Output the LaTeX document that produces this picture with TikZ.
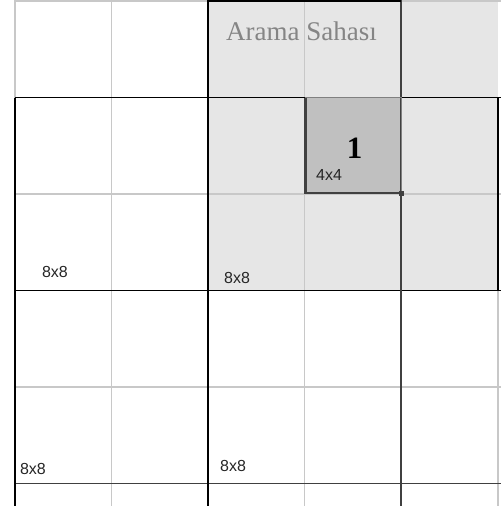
\documentclass[tikz,border=0pt]{standalone}
\usepackage{fontspec}
\setmainfont{Liberation Serif}
\newfontfamily\gridsans{Liberation Sans}
\usepackage{tikz}
\definecolor{searchfill}{HTML}{E6E6E6}
\definecolor{blockfill}{HTML}{C0C0C0}
\definecolor{thinline}{HTML}{C8C8C8}
\definecolor{titlegray}{HTML}{858585}
\definecolor{darkline}{HTML}{404040}
\tikzset{
  fine/.style={thinline,line width=1.2pt},
  block/.style={black,line width=1.6pt},
  size/.style={font=\gridsans\fontsize{16}{16}\selectfont,inner sep=0pt,anchor=base,text=black!85},
}

\begin{document}
\begin{tikzpicture}[x=1pt,y=-1pt]
\useasboundingbox (0,0) rectangle (501,506);
\fill[white] (0,0) rectangle (501,506);
\fill[searchfill] (208,0) rectangle (498,290.5);
\fill[blockfill] (304.5,97.5) rectangle (401,194);
% 4x4 grid
\foreach \x in {111.5,304.5} \draw[fine] (\x,0) -- (\x,506);
\foreach \y in {1,194,387} \draw[fine] (15,\y) -- (501,\y);
\draw[fine] (15,0) -- (15,97.5);
\draw[fine] (498,290.5) -- (498,506);
% 8x8 grid
\foreach \y in {97.5,290.5} \draw[block] (15,\y) -- (501,\y);
\draw[block,darkline] (15,483.5) -- (501,483.5);
\draw[block] (15,97.5) -- (15,506);
\draw[block] (208,0) -- (208,506);
\draw[block,darkline] (401,0) -- (401,506);
\draw[block] (208,0.8) -- (401,0.8);
\draw[block] (498,97.5) -- (498,290.5);
% block 1
\draw[gray,line width=1pt] (304.5,97.5) -- (401,97.5) -- (401,194);
\draw[darkline,line width=2.6pt] (305.5,97.5) -- (305.5,193) -- (401,193);
\fill[darkline] (398.5,191) rectangle (403.5,196);
% labels
\node[anchor=base,text=titlegray,font=\fontsize{27}{27}\selectfont,inner sep=0pt] (title) at (301.5,40.7) {Arama Sahası};
\node[anchor=base,font=\bfseries\fontsize{31}{31}\selectfont,inner sep=0pt] (one) at (354.5,158.7) {1};
\node[size] (s44) at (329,180) {4x4};
\node[size] (s88a) at (55,277) {8x8};
\node[size] (s88b) at (237,283) {8x8};
\node[size] (s88c) at (33,474) {8x8};
\node[size] (s88d) at (233,471) {8x8};
\end{tikzpicture}
\end{document}
